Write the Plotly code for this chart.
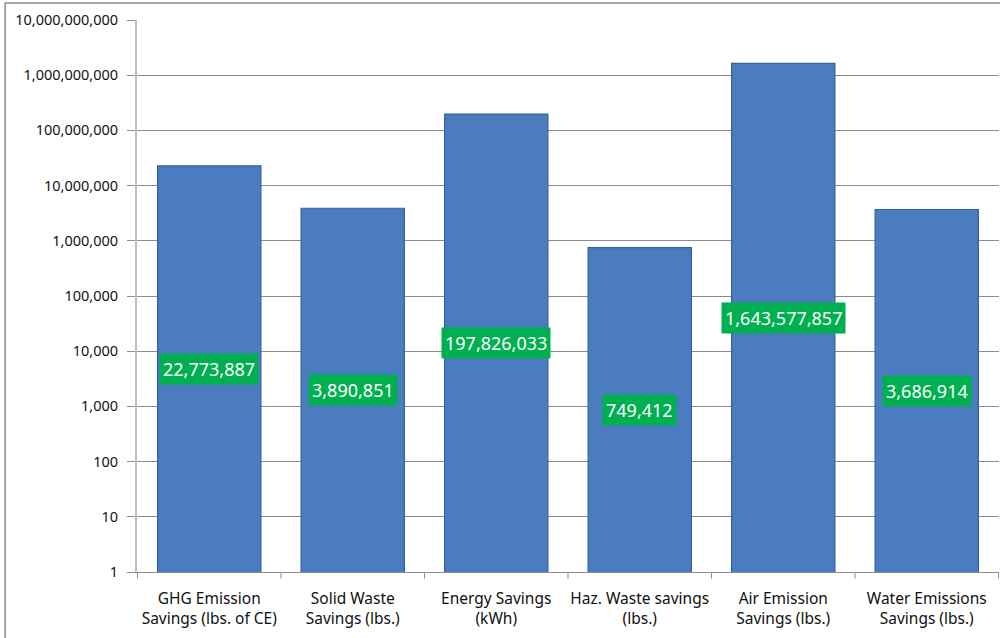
import plotly.graph_objects as go
import math

categories = ["GHG Emission<br>Savings (lbs. of CE)", "Solid Waste<br>Savings (lbs.)",
              "Energy Savings<br>(kWh)", "Haz. Waste savings<br>(lbs.)",
              "Air Emission<br>Savings (lbs.)", "Water Emissions<br>Savings (lbs.)"]
values = [22773887, 3890851, 197826033, 749412, 1643577857, 3686914]
tick_vals = [1, 10, 100, 1000, 10000, 100000, 1000000, 10000000, 100000000, 1000000000, 10000000000]
tick_text = ["1", "10", "100", "1,000", "10,000", "100,000", "1,000,000", "10,000,000",
             "100,000,000", "1,000,000,000", "10,000,000,000"]

FONT = "Noto Sans, Open Sans, sans-serif"

fig = go.Figure()
fig.add_trace(go.Bar(
    x=categories, y=values,
    marker=dict(color="#4A7CBF", line=dict(color="#36619C", width=1.2)),
    hoverinfo="x+y",
))

for c, v in zip(categories, values):
    fig.add_annotation(
        x=c, y=math.log10(v) / 2, text=f"{v:,}", showarrow=False,
        font=dict(color="white", size=18, family=FONT),
        bgcolor="#00B050", borderpad=3,
    )

fig.add_shape(type="rect", xref="paper", yref="paper",
              x0=-0.153, x1=1.05, y0=-0.2, y1=1.031,
              line=dict(color="#8C8C8C", width=1.5), fillcolor="rgba(0,0,0,0)", layer="below")

fig.update_layout(
    width=1000, height=638,
    margin=dict(l=137, r=1, t=20, b=66, autoexpand=False),
    plot_bgcolor="white", paper_bgcolor="white",
    bargap=0.28, showlegend=False,
    font=dict(family=FONT, color="#111111"),
    xaxis=dict(showline=True, linecolor="#8C8C8C", linewidth=1, automargin=False,
               ticks="", tickfont=dict(size=15.5), showgrid=False, ticklabelstandoff=12),
    yaxis=dict(type="log", range=[0, 10], tickvals=tick_vals, ticktext=tick_text,
               showgrid=True, gridcolor="#8C8C8C", gridwidth=1, automargin=False,
               showline=True, linecolor="#BFBFBF", linewidth=2,
               ticks="outside", ticklen=8, tickcolor="#8C8C8C", ticklabelstandoff=6,
               tickfont=dict(size=14.5), zeroline=False),
)

# category divider ticks on the x axis
for i in range(len(categories) + 1):
    fig.add_shape(type="line", xref="x", yref="paper",
                  x0=i - 0.5, x1=i - 0.5, y0=0, y1=-0.012,
                  line=dict(color="#8C8C8C", width=1))

fig.write_html("out.html", config={"displayModeBar": False},
               post_script="document.body.style.margin='0';document.body.style.overflow='hidden';")
